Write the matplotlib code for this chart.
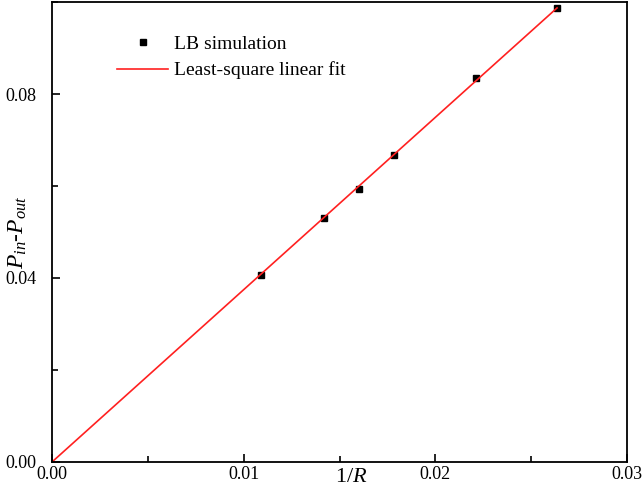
import numpy as np
import matplotlib
matplotlib.use('Agg')
import matplotlib.pyplot as plt
from matplotlib.ticker import MultipleLocator

plt.rcParams['font.family'] = 'Liberation Serif'
plt.rcParams['mathtext.fontset'] = 'custom'
plt.rcParams['mathtext.rm'] = 'Liberation Serif'
plt.rcParams['mathtext.it'] = 'Liberation Serif:italic'

# inverse radius vs pressure difference from the LB runs
inv_R = [0.01089, 0.01420, 0.01600, 0.01785, 0.02211, 0.02635]
dP = [0.04065, 0.05298, 0.05941, 0.06680, 0.08341, 0.09876]

x = np.array(inv_R)
y = np.array(dP)
# least-squares slope through the origin (Laplace law)
slope = np.sum(x * y) / np.sum(x * x)
xfit = np.linspace(0, x.max(), 50)

fig = plt.figure(figsize=(6.43, 4.99), dpi=100)
ax = fig.add_axes([52 / 643, 37 / 499, 575 / 643, 460 / 499])

ax.plot(x, y, 's', color='black', markersize=4, label='LB simulation')
ax.plot(xfit, slope * xfit, color='#ff2020', linewidth=1.2, label='Least-square linear fit')

ax.set_xlim(0, 0.03)
ax.set_ylim(0, 0.1)
ax.xaxis.set_major_locator(MultipleLocator(0.01))
ax.xaxis.set_minor_locator(MultipleLocator(0.005))
ax.yaxis.set_major_locator(MultipleLocator(0.04))
ax.yaxis.set_minor_locator(MultipleLocator(0.02))
ax.xaxis.set_major_formatter(plt.FormatStrFormatter('%.2f'))
ax.yaxis.set_major_formatter(plt.FormatStrFormatter('%.2f'))
ax.tick_params(which='both', direction='in', top=False, right=False, labelsize=13)
ax.tick_params(which='major', length=6, width=1.2)
ax.tick_params(which='minor', length=4, width=1.2)
ax.tick_params(axis='x', pad=3)
ax.tick_params(axis='y', pad=11)
for s in ax.spines.values():
    s.set_linewidth(1.3)

ax.set_xlabel('$1/R$', fontsize=16)
ax.xaxis.set_label_coords(0.52, -0.012)
ax.set_ylabel('$P_{in}$-$P_{out}$', fontsize=17)
ax.yaxis.set_label_coords(-0.04, 0.5)

ax.legend(loc='upper left', bbox_to_anchor=(0.1, 0.945), frameon=False, fontsize=14,
          handlelength=2.6, handletextpad=0.3, borderaxespad=0, labelspacing=0.45)

fig.savefig('out.png', dpi=100)
